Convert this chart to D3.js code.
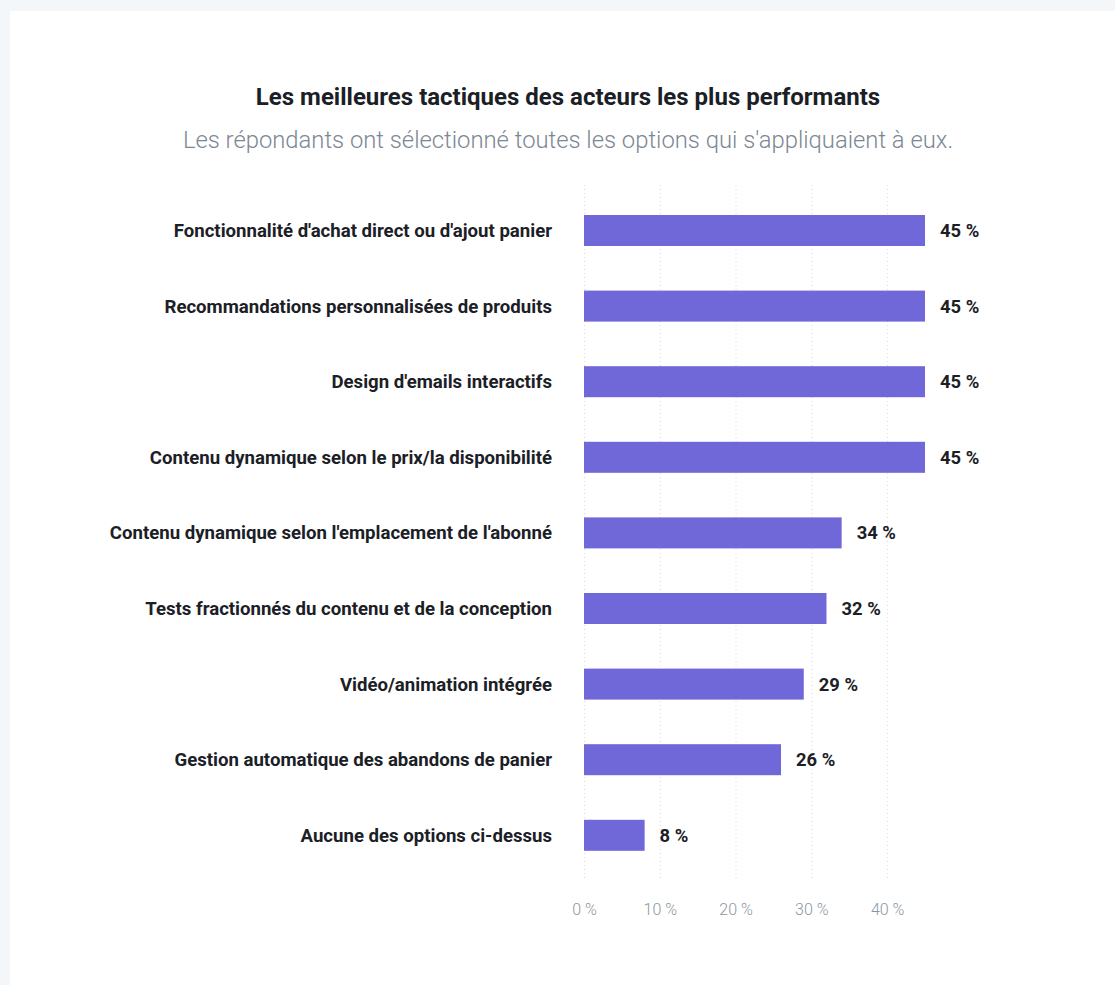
<!DOCTYPE html>
<html>
<head>
<meta charset="utf-8">
<script src="https://cdn.jsdelivr.net/npm/d3@7"></script>
<style>
  html, body { margin: 0; padding: 0; background: #f4f7fa; }
  svg { display: block; font-family: Roboto, "Noto Sans", sans-serif; }
</style>
</head>
<body>
<svg id="chart" width="1115" height="985"></svg>
<script>
// Survey results: share of top performers using each tactic
const categories = [
  "Fonctionnalité d'achat direct ou d'ajout panier",
  "Recommandations personnalisées de produits",
  "Design d'emails interactifs",
  "Contenu dynamique selon le prix/la disponibilité",
  "Contenu dynamique selon l'emplacement de l'abonné",
  "Tests fractionnés du contenu et de la conception",
  "Vidéo/animation intégrée",
  "Gestion automatique des abandons de panier",
  "Aucune des options ci-dessus"
];
const values = [45, 45, 45, 45, 34, 32, 29, 26, 8];
const tickValues = [0, 10, 20, 30, 40];

const title = "Les meilleures tactiques des acteurs les plus performants";
const subtitle = "Les répondants ont sélectionné toutes les options qui s'appliquaient à eux.";

const svg = d3.select("#chart");

// white card
svg.append("rect")
  .attr("x", 10).attr("y", 11)
  .attr("width", 1105).attr("height", 974)
  .attr("fill", "#ffffff");

svg.append("text")
  .attr("x", 568).attr("y", 105)
  .attr("text-anchor", "middle")
  .attr("font-size", 24).attr("font-weight", 700)
  .attr("fill", "#1b2026")
  .text(title);

svg.append("text")
  .attr("x", 568).attr("y", 148)
  .attr("text-anchor", "middle")
  .attr("font-size", 23.8).attr("font-weight", 300)
  .attr("fill", "#7b8793")
  .text(subtitle);

const x = d3.scaleLinear().domain([0, 45]).range([584, 925]);
const y = d3.scaleBand().domain(categories)
  .range([192.7, 873.1])
  .paddingInner(0.59).paddingOuter(0.295);

const gridTop = 185, gridBottom = 880;

// dotted vertical grid
svg.append("g").selectAll("line")
  .data(tickValues)
  .join("line")
  .attr("x1", d => x(d) + 0.5).attr("x2", d => x(d) + 0.5)
  .attr("y1", gridTop).attr("y2", gridBottom)
  .attr("stroke", "#d6dade")
  .attr("stroke-width", 1)
  .attr("stroke-dasharray", "1,3");

// x axis tick labels
const xAxis = d3.axisBottom(x)
  .tickValues(tickValues)
  .tickSize(0)
  .tickPadding(0)
  .tickFormat(d => d + " %");
const axisG = svg.append("g")
  .attr("transform", `translate(0, ${gridBottom + 24})`)
  .call(xAxis);
axisG.select(".domain").remove();
axisG.selectAll("text")
  .attr("font-family", "Roboto, sans-serif")
  .attr("font-size", 16)
  .attr("font-weight", 300)
  .attr("fill", "#8c97a2");

// bars
svg.append("g").selectAll("rect")
  .data(values)
  .join("rect")
  .attr("x", x(0))
  .attr("y", (d, i) => y(categories[i]))
  .attr("width", d => x(d) - x(0))
  .attr("height", y.bandwidth())
  .attr("fill", "#7067d8");

// category labels
svg.append("g").selectAll("text")
  .data(categories)
  .join("text")
  .attr("x", 552)
  .attr("y", d => y(d) + y.bandwidth() / 2)
  .attr("dy", "0.35em")
  .attr("text-anchor", "end")
  .attr("font-size", 18.6).attr("font-weight", 700)
  .attr("fill", "#1b2026")
  .text(d => d);

// value labels
svg.append("g").selectAll("text")
  .data(values)
  .join("text")
  .attr("x", d => x(d) + 15)
  .attr("y", (d, i) => y(categories[i]) + y.bandwidth() / 2)
  .attr("dy", "0.35em")
  .attr("font-size", 18.4).attr("font-weight", 700)
  .attr("fill", "#1b2026")
  .text(d => d + " %");
</script>
</body>
</html>
